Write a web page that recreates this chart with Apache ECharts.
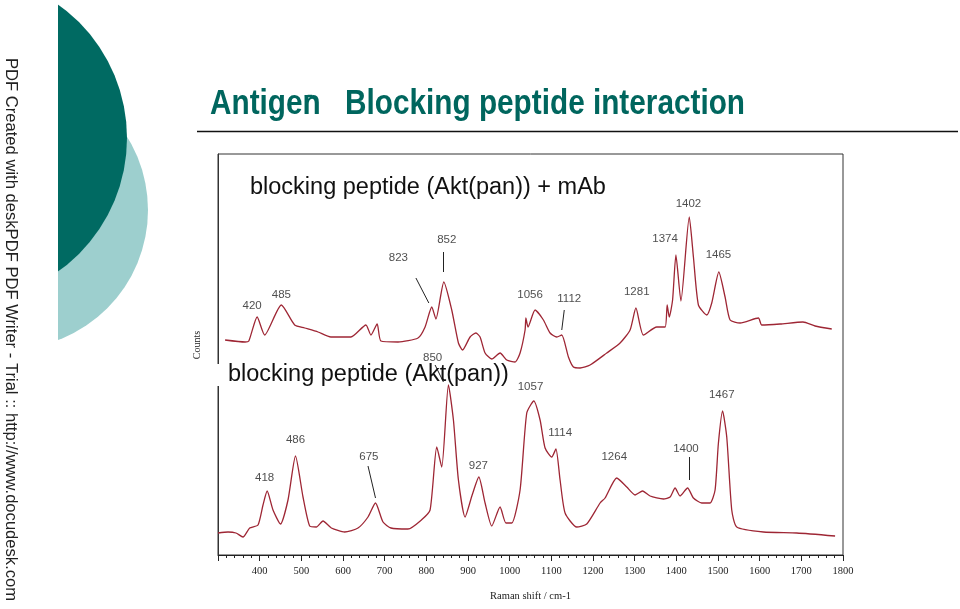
<!DOCTYPE html>
<html>
<head>
<meta charset="utf-8">
<script src="https://cdn.jsdelivr.net/npm/echarts@6/dist/echarts.min.js"></script>
<style>
html,body{margin:0;padding:0;background:#fff;}
#c{width:960px;height:609px;}
</style>
</head>
<body>
<div id="c"></div>
<script>
// x-axis tick labels (Raman shift / cm-1)
const xTicks = [400, 500, 600, 700, 800, 900, 1000, 1100, 1200, 1300, 1400, 1500, 1600, 1700, 1800];

// Upper spectrum: blocking peptide (Akt(pan)) + mAb  [Raman shift, counts (arb.)]
const topX = [317, 365, 374, 394, 412, 452, 484, 508, 540, 571, 619, 655, 667, 682, 691, 732, 780, 797, 813, 823, 842, 861, 877, 887, 905, 919, 929, 941, 957, 977, 993, 1013, 1025, 1037, 1039, 1044, 1061, 1081, 1097, 1113, 1125, 1141, 1153, 1169, 1193, 1233, 1265, 1289, 1303, 1321, 1353, 1373, 1378, 1383, 1391, 1399, 1411, 1431, 1441, 1453, 1473, 1485, 1502, 1517, 1529, 1553, 1597, 1605, 1649, 1704, 1733, 1773];
const topY = [215, 213, 214, 238, 220, 250, 230, 227, 223, 218, 218, 230, 220, 231, 214, 213, 217, 228, 248, 236, 273, 245, 212, 205, 218, 222, 218, 202, 196, 202, 195, 193, 202, 225, 237, 228, 245, 235, 222, 218, 220, 198, 188, 187, 190, 202, 212, 225, 247, 220, 228, 228, 250, 238, 255, 300, 254, 338, 298, 250, 240, 252, 283, 258, 235, 232, 237, 230, 231, 233, 229, 226];

// Lower spectrum: blocking peptide (Akt(pan))
const botX = [300, 324, 343, 360, 376, 396, 408, 418, 432, 450, 468, 486, 504, 520, 536, 552, 572, 604, 636, 660, 678, 696, 715, 756, 788, 809, 825, 837, 853, 865, 877, 893, 910, 926, 941, 957, 977, 991, 1005, 1025, 1041, 1058, 1073, 1085, 1101, 1111, 1121, 1133, 1161, 1185, 1217, 1229, 1257, 1281, 1301, 1319, 1337, 1369, 1385, 1397, 1409, 1427, 1441, 1461, 1481, 1493, 1501, 1511, 1521, 1533, 1545, 1609, 1689, 1781];
const botY = [22, 23, 22, 18, 27, 30, 50, 64, 45, 31, 55, 99, 58, 29, 28, 34, 27, 23, 27, 38, 52, 33, 27, 26, 35, 45, 108, 88, 170, 135, 75, 38, 60, 78, 52, 29, 48, 32, 32, 65, 142, 154, 135, 107, 98, 106, 75, 42, 28, 31, 52, 57, 77, 68, 60, 64, 59, 56, 58, 67, 59, 67, 57, 52, 52, 65, 112, 144, 118, 45, 28, 23, 22, 19];

// Peak annotations (label text, label position)
const peakText = ['420', '485', '823', '852', '1056', '1112', '1281', '1374', '1402', '1465',
                  '418', '486', '675', '850', '927', '1057', '1114', '1264', '1400', '1467'];
const peakX = [382, 452, 733, 849, 1049, 1143, 1305, 1373, 1429, 1501,
               412, 486, 662, 815, 925, 1050, 1121, 1251, 1423, 1509];
const peakY = [249, 260, 297, 315, 260, 256, 263, 316, 351, 300,
               77, 115, 98, 197, 89, 168, 122, 98, 106, 160];

// Leader lines from labels to peaks
const leaderFrom = [[775, 277], [841, 303], [1131, 245], [660, 89], [821, 190], [1431, 98]];
const leaderTo   = [[806, 252], [841, 283], [1125, 225], [678, 57], [841, 173], [1431, 75]];

const pair = (xs, ys) => xs.map((x, i) => [x, ys[i]]);

const chart = echarts.init(document.getElementById('c'));
const lineColor = '#9e2634';
const serif = '"Liberation Serif","DejaVu Serif",serif';
const sans = '"Liberation Sans",Arial,sans-serif';

chart.setOption({
  animation: false,
  backgroundColor: '#fff',
  grid: {left: 218, right: 117, top: 154, bottom: 54, show: true, borderColor: '#333', borderWidth: 1, backgroundColor: 'transparent'},
  xAxis: {
    type: 'value', min: 300, max: 1800, interval: 100,
    axisLine: {show: true, lineStyle: {color: '#222', width: 1}},
    axisTick: {show: true, length: 6, inside: false, lineStyle: {color: '#222'}},
    minorTick: {show: true, splitNumber: 5, length: 3, lineStyle: {color: '#222'}},
    splitLine: {show: false},
    axisLabel: {
      color: '#222', fontFamily: serif, fontSize: 10.5, margin: 11,
      showMinLabel: false,
      formatter: v => (xTicks.indexOf(v) >= 0 ? String(v) : '')
    },
    name: 'Raman shift / cm-1', nameLocation: 'middle', nameGap: 36,
    nameTextStyle: {color: '#222', fontFamily: serif, fontSize: 10.5}
  },
  yAxis: {
    type: 'value', min: 0, max: 401,
    axisLine: {show: true, lineStyle: {color: '#333'}},
    axisTick: {show: false}, axisLabel: {show: false}, splitLine: {show: false}
  },
  series: [
    {type: 'line', data: pair(topX, topY), showSymbol: false, smooth: 0.2,
     lineStyle: {color: lineColor, width: 1.3}, z: 3},
    {type: 'line', data: pair(botX, botY), showSymbol: false, smooth: 0.2,
     lineStyle: {color: lineColor, width: 1.3}, z: 3},
    {type: 'scatter', symbolSize: 0, z: 5,
     data: peakText.map((t, i) => ({name: t, value: [peakX[i], peakY[i]]})),
     label: {show: true, position: 'inside', formatter: p => p.name,
             color: '#222', fontFamily: sans, fontSize: 11.5}},
    {type: 'lines', coordinateSystem: 'cartesian2d', z: 4,
     lineStyle: {color: '#222', width: 1, opacity: 1},
     data: leaderFrom.map((f, i) => ({coords: [f, leaderTo[i]]}))}
  ],
  graphic: [
    // decorative slide shapes (circular segments cut at x = 58)
    {type: 'circle', shape: {cx: 9, cy: 210, r: 139}, style: {fill: '#9dcfce'}, z: 1},
    {type: 'circle', shape: {cx: -37, cy: 138, r: 164}, style: {fill: '#006a62'}, z: 2},
    {type: 'rect', shape: {x: 0, y: 0, width: 58, height: 609}, style: {fill: '#fff'}, z: 3},
    {type: 'text', x: 2, y: 58, rotation: -Math.PI / 2, z: 4,
     style: {text: 'PDF Created with deskPDF PDF Writer - Trial :: http://www.docudesk.com',
             fill: '#222', font: '16.6px "Liberation Sans", Arial, sans-serif', textVerticalAlign: 'bottom'}},
    // y-axis title
    {type: 'text', x: 197, y: 345, rotation: Math.PI / 2, z: 4,
     style: {text: 'Counts', fill: '#222', font: '10px "Liberation Serif", "DejaVu Serif", serif',
             textAlign: 'center', textVerticalAlign: 'middle'}},
    // title
    {type: 'text', x: 210, y: 104, scaleX: 0.85, z: 4,
     style: {text: 'Antigen', fill: '#00665e', font: 'bold 35px "Liberation Sans", Arial, sans-serif', textVerticalAlign: 'middle'}},
    {type: 'text', x: 307, y: 96, z: 4,
     style: {text: '-', fill: '#00665e', font: 'bold 18px "Liberation Sans", Arial, sans-serif', textVerticalAlign: 'middle'}},
    {type: 'text', x: 345, y: 104, scaleX: 0.85, z: 4,
     style: {text: 'Blocking peptide interaction', fill: '#00665e', font: 'bold 35px "Liberation Sans", Arial, sans-serif', textVerticalAlign: 'middle'}},
    {type: 'line', shape: {x1: 197, y1: 131.5, x2: 958, y2: 131.5}, style: {stroke: '#111', lineWidth: 1.5}, z: 4},
    // spectrum captions
    {type: 'text', x: 250, y: 188, z: 6,
     style: {text: 'blocking peptide (Akt(pan)) + mAb', fill: '#111', font: '23.5px "Liberation Sans", Arial, sans-serif', textVerticalAlign: 'middle'}},
    {type: 'rect', shape: {x: 213, y: 364, width: 10, height: 22}, style: {fill: '#fff'}, z: 5},
    {type: 'text', x: 228, y: 375, z: 6,
     style: {text: 'blocking peptide (Akt(pan))', fill: '#111', font: '23.5px "Liberation Sans", Arial, sans-serif', textVerticalAlign: 'middle'}}
  ]
});
</script>
</body>
</html>
